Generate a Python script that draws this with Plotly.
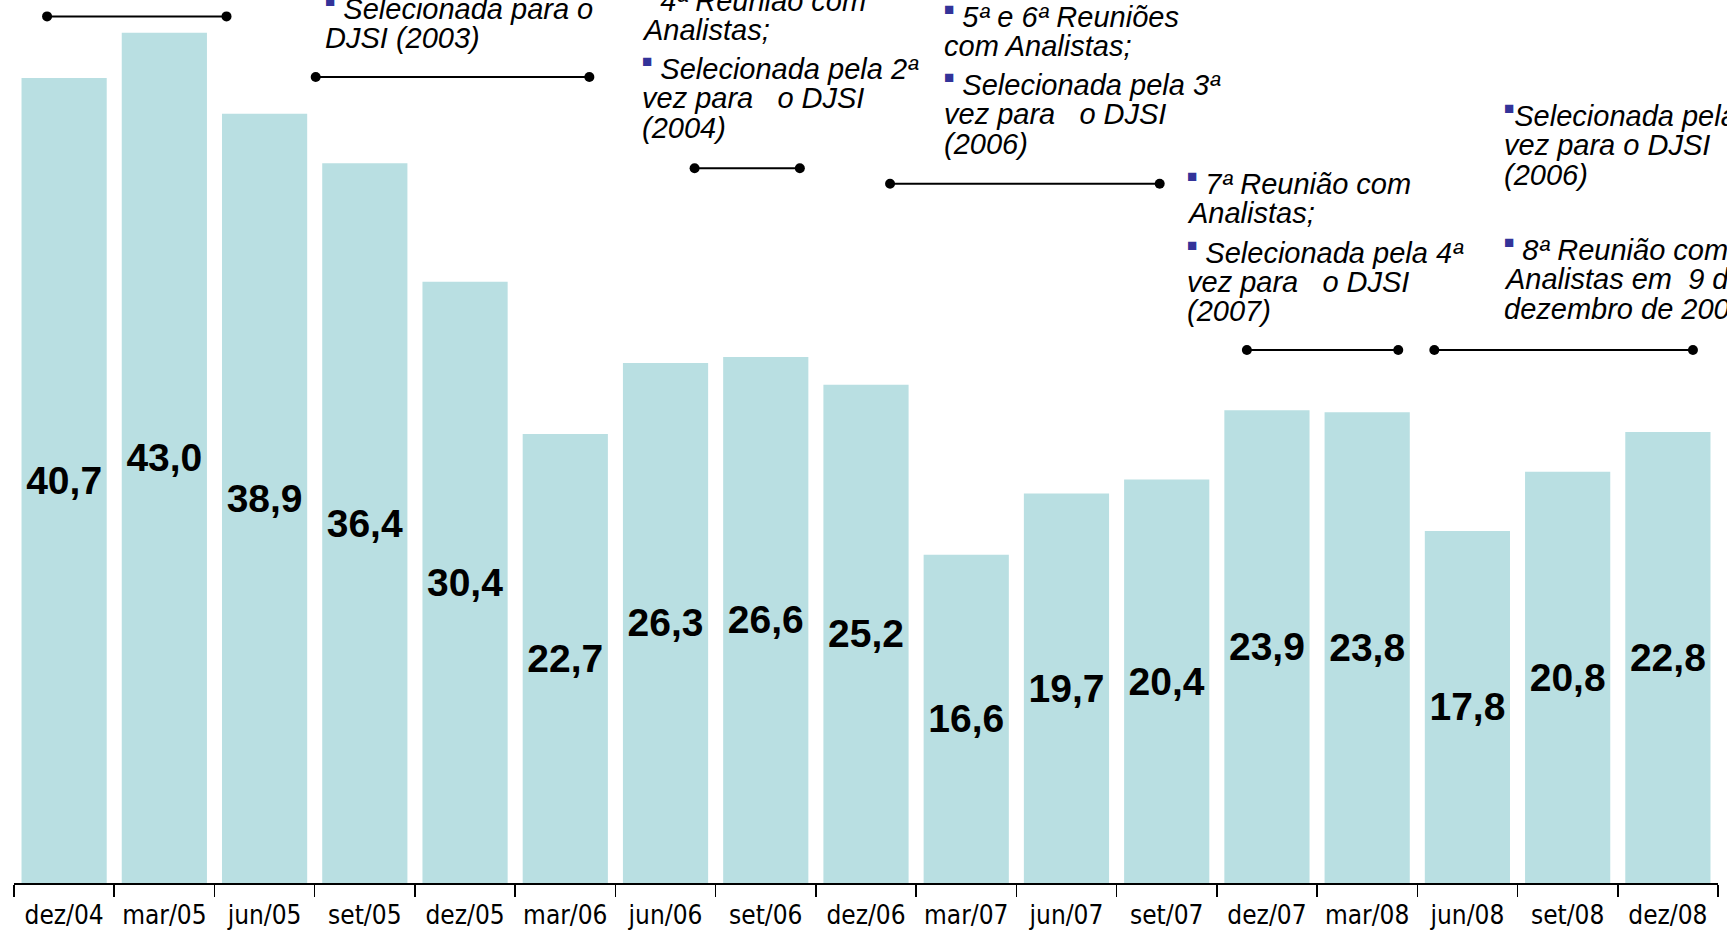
import plotly.graph_objects as go

categories = ["dez/04", "mar/05", "jun/05", "set/05", "dez/05", "mar/06", "jun/06", "set/06",
              "dez/06", "mar/07", "jun/07", "set/07", "dez/07", "mar/08", "jun/08", "set/08", "dez/08"]
values = [40.7, 43.0, 38.9, 36.4, 30.4, 22.7, 26.3, 26.6, 25.2, 16.6, 19.7, 20.4, 23.9, 23.8, 17.8, 20.8, 22.8]

NB = "\u00a0"
BUL = "<sup><span style='color:#333399;font-size:17px'>\u25a0</span></sup>"

# annotation text blocks: (x index of left edge, y of first line centre, list of (is_bullet_start, text))
blocks = [
    (2.586, 44.21, [(True, " Selecionada para o"), (False, "DJSI (2003)")]),
    (5.75, 44.65, [(True, " 4ª Reunião com"), (False, "Analistas;"),
                   (True, " Selecionada pela 2ª"), (False, "vez para" + NB * 3 + "o DJSI"), (False, "(2004)")]),
    (8.76, 43.82, [(True, " 5ª e 6ª Reuniões"), (False, "com Analistas;"),
                   (True, " Selecionada pela 3ª"), (False, "vez para" + NB * 3 + "o DJSI"), (False, "(2006)")]),
    (11.185, 35.36, [(True, " 7ª Reunião com"), (False, "Analistas;"),
                     (True, " Selecionada pela 4ª"), (False, "vez para" + NB * 3 + "o DJSI"), (False, "(2007)")]),
    (14.347, 38.81, [(True, "Selecionada pela 5ª"), (False, "vez para o DJSI"), (False, "(2006)")]),
    (14.347, 32.02, [(True, " 8ª Reunião com"), (False, "Analistas em" + NB * 2 + "9 de"), (False, "dezembro de 2008")]),
]

# timeline segments: (x start, x end, y)
segments = [
    (-0.17, 1.62, 43.82),
    (2.51, 5.24, 40.76),
    (6.29, 7.34, 36.14),
    (8.24, 10.93, 35.36),
    (11.80, 13.31, 26.95),
    (13.67, 16.25, 26.95),
]

labels = [f"{v:.1f}".replace(".", ",") for v in values]

fig = go.Figure()
fig.add_trace(go.Bar(
    x=categories, y=values, text=labels,
    textposition="inside", insidetextanchor="middle", constraintext="none",
    textfont=dict(family="Liberation Sans, Arial", size=39, color="black", weight="bold"),
    marker=dict(color="#B9DFE2", line=dict(width=0)),
    hoverinfo="skip",
))

annotations = []
LINE = 1.503
BGAP = 1.95
for x0, y0, lines in blocks:
    y = y0
    for i, (bul, txt) in enumerate(lines):
        if i > 0:
            y -= BGAP if bul else LINE
        if bul:
            t = BUL + (NB + txt[1:] if txt.startswith(" ") else txt)
        else:
            t = txt
        annotations.append(dict(
            x=x0, y=y, xref="x", yref="y", xanchor="left", yanchor="middle",
            text=t, showarrow=False,
            font=dict(family="Liberation Sans, Arial", size=29, color="black", style="italic"),
        ))

shapes = []
for xa, xb, yy in segments:
    shapes.append(dict(type="line", xref="x", yref="y", x0=xa, x1=xb, y0=yy, y1=yy,
                       line=dict(color="black", width=2)))
    for xe in (xa, xb):
        shapes.append(dict(type="circle", xref="x", yref="y", xsizemode="pixel", ysizemode="pixel",
                           xanchor=xe, yanchor=yy, x0=-5, x1=5, y0=-5, y1=5,
                           fillcolor="black", line=dict(color="black", width=0)))

fig.update_layout(
    width=1727, height=931,
    margin=dict(l=14, r=9, t=0, b=48),
    paper_bgcolor="white", plot_bgcolor="white",
    bargap=0.15, showlegend=False,
    annotations=annotations, shapes=shapes,
    xaxis=dict(
        type="category", tickson="boundaries", ticks="outside", ticklen=12, tickwidth=1.5,
        tickcolor="black", showline=True, linecolor="black", linewidth=1.5,
        showgrid=False, range=[-0.5, 16.5], ticklabelstandoff=8,
        tickfont=dict(family="Liberation Sans Narrow, DejaVu Sans Condensed, Arial Narrow", size=26, color="black"),
    ),
    yaxis=dict(visible=False, range=[0, 44.65], showgrid=False, zeroline=False),
)

fig.write_html("out.html", config={"displayModeBar": False, "staticPlot": True},
               post_script="document.body.style.margin='0';document.body.style.overflow='hidden';")
